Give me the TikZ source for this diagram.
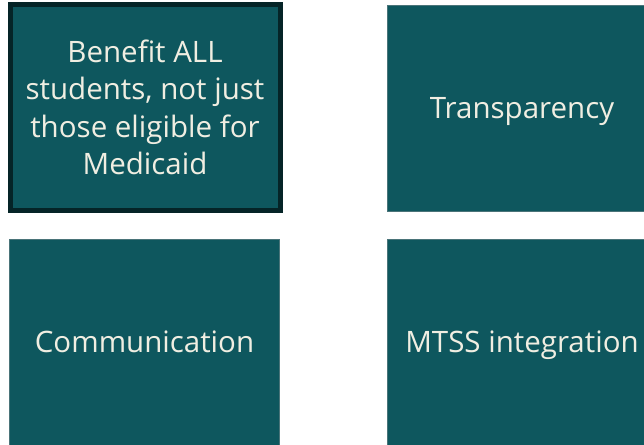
\documentclass[tikz,border=0pt]{standalone}
\usepackage{fontspec}
\setmainfont{Open Sans}
\usepackage{tikz}
\usetikzlibrary{positioning}

\definecolor{tealfill}{HTML}{0E575E}
\definecolor{tealedge}{HTML}{052427}
\definecolor{tealline}{HTML}{4A7479}
\definecolor{creamtext}{HTML}{F0EEE2}

\begin{document}
\begin{tikzpicture}[
        x=1pt, y=-1pt,
        tile/.style={rectangle, draw=tealline, line width=0.8pt, fill=tealfill,
            minimum width=270pt, minimum height=206pt, inner sep=0pt,
            text=creamtext, align=center, font=\fontsize{29.5}{37.3}\selectfont},
        word/.style={tile, text height=21pt, text depth=0pt},
        picked/.style={tile, draw=tealedge, line width=5pt}
    ]
        % page frame, everything past it is cut off
        \path[use as bounding box, clip] (0,0) rectangle (644,444);
        \fill[white] (0,0) rectangle (644,444);

        % top row
        \node (benefit) [picked] at (145,107.5) {Benefit ALL\\students, not just\\those eligible for\\Medicaid};
        \node (transp) [word] at (522,108) {Transparency};

        % bottom row
        \node (comm) [word] at (144.5,342) {Communication};
        \node (mtss) [word] at (522,342) {MTSS integration};
    \end{tikzpicture}
\end{document}
